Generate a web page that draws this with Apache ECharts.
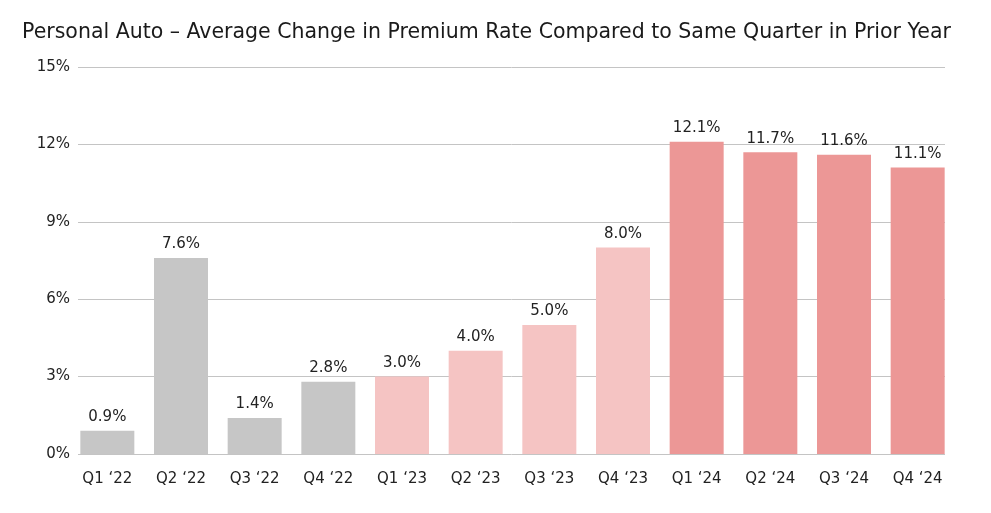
<!DOCTYPE html>
<html>
<head>
<meta charset="utf-8">
<script src="https://cdn.jsdelivr.net/npm/echarts@6/dist/echarts.min.js"></script>
<style>
html,body{margin:0;padding:0;background:#fff;}
#c{width:991px;height:513px;}
</style>
</head>
<body>
<div id="c"></div>
<script>
var categories = ["Q1 \u201822","Q2 \u201822","Q3 \u201822","Q4 \u201822","Q1 \u201823","Q2 \u201823","Q3 \u201823","Q4 \u201823","Q1 \u201824","Q2 \u201824","Q3 \u201824","Q4 \u201824"];
var values = [0.9, 7.6, 1.4, 2.8, 3.0, 4.0, 5.0, 8.0, 12.1, 11.7, 11.6, 11.1];
var yearGroup = [0,0,0,0,1,1,1,1,2,2,2,2];
var groupColors = ["#c6c6c6", "#f5c4c3", "#ec9796"];
var yTicks = [0, 3, 6, 9, 12, 15];

var FONT = "DejaVu Sans";
var chart = echarts.init(document.getElementById('c'), null, {renderer:'canvas'});
chart.setOption({
  animation:false,
  backgroundColor:'#fff',
  textStyle:{fontFamily:FONT},
  title:{
    text:"Personal Auto \u2013 Average Change in Premium Rate Compared to Same Quarter in Prior Year",
    left:17, top:17,
    textStyle:{fontFamily:FONT, fontSize:20.5, fontWeight:'normal', color:'#1a1a1a'}
  },
  grid:[
    {left:78, right:46, top:67, bottom:59, containLabel:false},
    {left:70.5, right:36.5, top:67, bottom:59, containLabel:false}
  ],
  xAxis:[
    {type:'value', gridIndex:0, show:false, min:0, max:1},
    {type:'category', gridIndex:1, data:categories,
     axisLine:{show:false}, axisTick:{show:false},
     axisLabel:{color:'#222', fontSize:15, fontFamily:FONT, margin:18}}
  ],
  yAxis:[
    {type:'value', gridIndex:0, min:yTicks[0], max:yTicks[yTicks.length-1], interval:3,
     axisLine:{show:false}, axisTick:{show:false},
     axisLabel:{color:'#222', fontSize:15, fontFamily:FONT, margin:8, formatter:function(v){return v+'%';}},
     splitLine:{lineStyle:{color:'#c4c4c4', width:1}}},
    {type:'value', gridIndex:1, min:yTicks[0], max:yTicks[yTicks.length-1], show:false, splitLine:{show:false}}
  ],
  series:[{
    type:'bar', xAxisIndex:1, yAxisIndex:1,
    barWidth:54,
    data: values.map(function(v,i){return {value:v, itemStyle:{color:groupColors[yearGroup[i]]}};}),
    label:{show:true, position:'top', distance:6, color:'#222', fontSize:15, fontFamily:FONT,
      formatter:function(p){return p.value.toFixed(1)+'%';}}
  }]
});
</script>
</body>
</html>
